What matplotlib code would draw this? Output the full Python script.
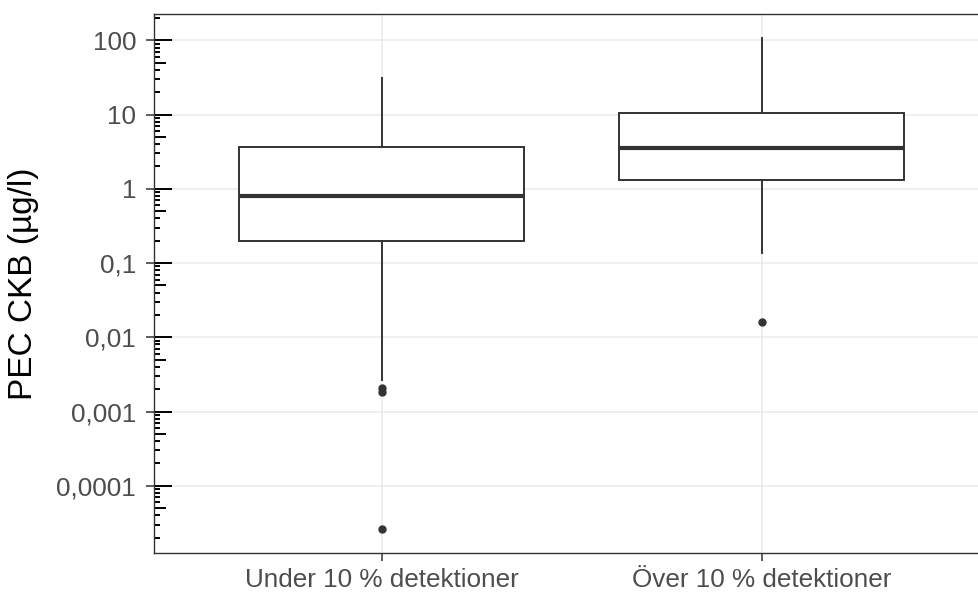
import numpy as np
import matplotlib
matplotlib.use("Agg")
import matplotlib.pyplot as plt

plt.rcParams['font.family'] = ['Liberation Sans', 'DejaVu Sans']

# ---- data ----
categories = ["Under 10 % detektioner", "Över 10 % detektioner"]
q1 = [0.200, 1.31]
median = [0.807, 3.51]
q3 = [3.69, 10.6]
whisker_low = [0.00266, 0.138]
whisker_high = [31.4, 106.0]
outliers = [[0.00207, 0.00183, 2.59e-5], [0.0159]]

ytick_values = [1e-4, 1e-3, 1e-2, 1e-1, 1, 10, 100]
ytick_labels = ["0,0001", "0,001", "0,01", "0,1", "1", "10", "100"]
y_limits = (10 ** -4.906, 10 ** 2.355)
ylabel = "PEC CKB (µg/l)"

# ---- styling ----
W, H, DPI = 979, 592, 100
dark = "#333333"
grid_c = "#EBEBEB"
tick_txt = "#4D4D4D"

fig = plt.figure(figsize=(W / DPI, H / DPI), dpi=DPI)
ax_left, ax_right, ax_top, ax_bottom = 154, 990, 14, 553
ax = fig.add_axes([ax_left / W, (H - ax_bottom) / H,
                   (ax_right - ax_left) / W, (ax_bottom - ax_top) / H])

ax.set_yscale("log")
ax.set_ylim(*y_limits)
ax.set_xlim(0.4, 2.6)

stats = []
for i, c in enumerate(categories):
    stats.append(dict(label=c, q1=q1[i], med=median[i], q3=q3[i],
                      whislo=whisker_low[i], whishi=whisker_high[i],
                      fliers=outliers[i]))

positions = np.arange(1, len(categories) + 1)
ax.bxp(stats, positions=positions, widths=0.75, patch_artist=True,
       showcaps=False, zorder=3,
       boxprops=dict(facecolor="white", edgecolor=dark, linewidth=1.4),
       medianprops=dict(color=dark, linewidth=3.0, solid_capstyle="butt"),
       whiskerprops=dict(color=dark, linewidth=1.4),
       flierprops=dict(marker="o", markersize=5, markerfacecolor=dark,
                       markeredgecolor=dark, linestyle="none"))

ax.set_xticks(positions)
ax.set_xticklabels(categories)
ax.set_yticks(ytick_values)
ax.set_yticklabels(ytick_labels)
ax.yaxis.set_minor_locator(matplotlib.ticker.NullLocator())

ax.tick_params(axis="both", which="major", direction="out", length=5.8,
               width=1.1, color=dark, labelcolor=tick_txt, labelsize=18.8)
ax.tick_params(axis="y", pad=7)
ax.tick_params(axis="x", pad=5)

ax.grid(True, which="major", color=grid_c, linewidth=1.1, zorder=0)
ax.set_axisbelow(True)

for s in ax.spines.values():
    s.set_color(dark)
    s.set_linewidth(1.0)
    s.set_zorder(5)

# annotation log ticks (inside, left)
panel_w = ax_right - ax_left
trans = ax.get_yaxis_transform()
lo, hi = np.log10(y_limits[0]), np.log10(y_limits[1])
for d in range(int(np.floor(lo)), int(np.ceil(hi)) + 1):
    for m in range(1, 10):
        v = m * 10.0 ** d
        if not (y_limits[0] <= v <= y_limits[1]):
            continue
        L = 18 if m == 1 else (12 if m == 5 else 6)
        ax.plot([0, L / panel_w], [v, v], transform=trans, color="black",
                linewidth=1.4, solid_capstyle="butt", zorder=4, clip_on=False)

fig.text(24 / W, 1 - 283.5 / H, ylabel, rotation=90, ha="center", va="center",
         fontsize=24, color="black")

fig.savefig("out.png", dpi=DPI)
